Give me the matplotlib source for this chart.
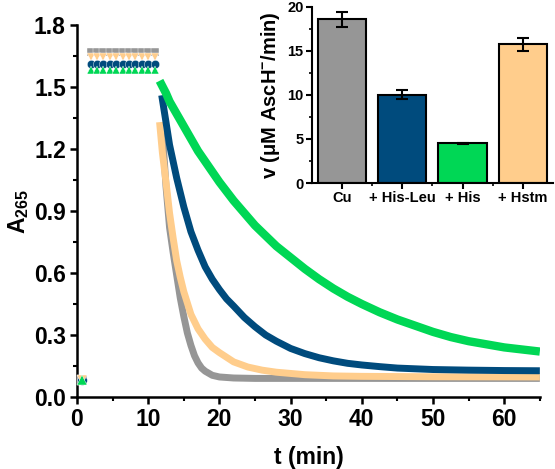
import numpy as np
import matplotlib
matplotlib.use("Agg")
import matplotlib.pyplot as plt
from matplotlib.ticker import MultipleLocator, FixedLocator, FormatStrFormatter

plt.rcParams['font.family'] = ['Liberation Sans', 'DejaVu Sans']
plt.rcParams['font.weight'] = 'bold'
plt.rcParams['mathtext.fontset'] = 'custom'
plt.rcParams['mathtext.rm'] = 'Liberation Sans:bold'
plt.rcParams['mathtext.bf'] = 'Liberation Sans:bold'
plt.rcParams['mathtext.it'] = 'Liberation Sans:bold'

# kinetic traces: A265 vs time (min)
t_start = [0.7]
t_plateau = [1.9, 2.8, 3.7, 4.6, 5.5, 6.4, 7.3, 8.2, 9.1, 10.0, 10.9]

cu_start = [0.08]
cu_plateau = [1.67] * 11
cu_t = [12.0, 12.5, 13.0, 13.5, 14.0, 14.5, 15.0, 15.5, 16.0, 16.5, 17.0, 17.5, 18.0,
        19.0, 20.0, 22.0, 25.0, 30.0, 40.0, 50.0, 65.0]
cu_A = [1.28, 1.02, 0.82, 0.70, 0.59, 0.48, 0.39, 0.31, 0.25, 0.20, 0.165, 0.14, 0.125,
        0.105, 0.097, 0.092, 0.09, 0.09, 0.09, 0.09, 0.09]

hstm_start = [0.08]
hstm_plateau = [1.645] * 11
hstm_t = [11.6, 12.0, 12.5, 13.0, 13.5, 14.0, 14.5, 15.0, 16.0, 17.0, 18.0, 19.0, 20.0,
          22.0, 24.0, 26.0, 28.0, 32.0, 36.0, 40.0, 50.0, 65.0]
hstm_A = [1.33, 1.18, 1.04, 0.89, 0.77, 0.66, 0.58, 0.51, 0.40, 0.33, 0.28, 0.24, 0.215,
          0.17, 0.145, 0.13, 0.12, 0.108, 0.102, 0.10, 0.098, 0.097]

hisleu_start = [0.08]
hisleu_plateau = [1.61] * 11
hisleu_t = [11.9, 12.5, 13.0, 13.5, 14.0, 14.5, 15.0, 16.0, 17.0, 18.0, 19.0, 20.0,
            21.0, 22.0, 23.5, 25.0, 26.5, 28.0, 30.0, 32.0, 34.0, 36.0, 38.0, 40.0,
            42.5, 45.0, 50.0, 55.0, 60.0, 65.0]
hisleu_A = [1.46, 1.33, 1.22, 1.14, 1.06, 0.99, 0.92, 0.80, 0.71, 0.63, 0.57, 0.52,
            0.475, 0.44, 0.385, 0.34, 0.30, 0.27, 0.235, 0.21, 0.19, 0.175, 0.163, 0.155,
            0.147, 0.14, 0.133, 0.13, 0.128, 0.127]

his_start = [0.08]
his_plateau = [1.58] * 11
his_t = [11.6, 12.5, 13.0, 14.0, 15.0, 16.0, 17.0, 18.0, 19.0, 20.0, 21.0, 22.0,
         23.5, 25.0, 26.5, 28.0, 30.0, 32.0, 34.0, 36.0, 38.0, 40.0, 42.5, 45.0,
         47.5, 50.0, 52.5, 55.0, 57.5, 60.0, 62.5, 65.0]
his_A = [1.53, 1.47, 1.43, 1.37, 1.31, 1.25, 1.19, 1.14, 1.09, 1.04, 0.995, 0.95,
         0.89, 0.83, 0.78, 0.73, 0.675, 0.62, 0.57, 0.525, 0.485, 0.45, 0.41, 0.375,
         0.345, 0.315, 0.29, 0.27, 0.255, 0.24, 0.23, 0.22]

# inset: rates
bar_labels = ['Cu', '+ His-Leu', '+ His', '+ Hstm']
bar_values = [18.6, 10.05, 4.5, 15.75]
bar_errors = [0.85, 0.5, 0.05, 0.7]

c_gray = '#969696'
c_blue = '#004b7d'
c_green = '#00d755'
c_orange = '#ffcd8c'

fig = plt.figure(figsize=(5.55, 4.69), dpi=100)
ax = fig.add_axes([0.1387, 0.1535, 0.834, 0.7932])

series = [
    (cu_start, cu_plateau, cu_t, cu_A, c_gray, 's', 5, 3),
    (hstm_start, hstm_plateau, hstm_t, hstm_A, c_orange, 'v', 5, 5),
    (hisleu_start, hisleu_plateau, hisleu_t, hisleu_A, c_blue, 'o', 5, 4),
    (his_start, his_plateau, his_t, his_A, c_green, '^', 6, 6),
]
for i, (s0, pl, td, Ad, col, mk, lw, z0) in enumerate(series):
    ax.plot(t_start, s0, ls='none', marker=mk, ms=7, color=col, mec='white',
            mew=0.3, zorder=z0, clip_on=False)
    ax.plot(t_plateau, pl, ls='none', marker=mk, ms=6, color=col, mec='white',
            mew=0.3, zorder=3 + i)
    ax.plot(td, Ad, '-', lw=lw, color=col, solid_capstyle='butt',
            solid_joinstyle='round', zorder=3 + i)

ax.set_xlim(0, 65)
ax.set_ylim(0, 1.8)
ax.xaxis.set_major_locator(MultipleLocator(10))
ax.xaxis.set_minor_locator(MultipleLocator(5))
ax.yaxis.set_major_locator(MultipleLocator(0.3))
ax.yaxis.set_minor_locator(MultipleLocator(0.15))
ax.yaxis.set_major_formatter(FormatStrFormatter('%.1f'))
for s in ['top', 'right']:
    ax.spines[s].set_visible(False)
for s in ['left', 'bottom']:
    ax.spines[s].set_linewidth(1.8)
ax.tick_params(which='major', direction='out', length=5, width=1.8, labelsize=16.5, pad=3)
ax.tick_params(which='minor', direction='out', length=3, width=1.5)
for lab in ax.get_xticklabels() + ax.get_yticklabels():
    lab.set_fontweight('bold')
ax.set_xlabel('t (min)', fontsize=16.5, fontweight='bold', labelpad=11)
ax.set_ylabel(r'A$_{265}$', fontsize=16.5, fontweight='bold', labelpad=2)

# inset
ins = fig.add_axes([0.5622, 0.6098, 0.434, 0.3753])
xpos = np.arange(1, len(bar_values) + 1)
ins.bar(xpos, bar_values, width=0.8, color=[c_gray, c_blue, c_green, c_orange],
        edgecolor='black', linewidth=1.5, zorder=2)
ins.errorbar(xpos, bar_values, yerr=bar_errors, fmt='none', ecolor='black',
             elinewidth=1.5, capsize=4, capthick=1.5, zorder=3)
ins.set_xlim(0.5, 4.5)
ins.set_ylim(0, 20)
ins.xaxis.set_major_locator(FixedLocator(xpos))
ins.xaxis.set_minor_locator(FixedLocator([1.5, 2.5, 3.5]))
ins.set_xticklabels(bar_labels)
ins.yaxis.set_major_locator(MultipleLocator(5))
ins.yaxis.set_minor_locator(MultipleLocator(2.5))
for s in ['top', 'right']:
    ins.spines[s].set_visible(False)
for s in ['left', 'bottom']:
    ins.spines[s].set_linewidth(1.5)
ins.tick_params(which='major', direction='out', length=4, width=1.5, labelsize=10.5, pad=2)
ins.tick_params(which='minor', direction='out', length=2.5, width=1.2)
for lab in ins.get_xticklabels() + ins.get_yticklabels():
    lab.set_fontweight('bold')
ins.set_ylabel('v (μM AscH$^{-}$/min)', fontsize=14.5, fontweight='bold', labelpad=4)

fig.savefig('out.png', dpi=100)
